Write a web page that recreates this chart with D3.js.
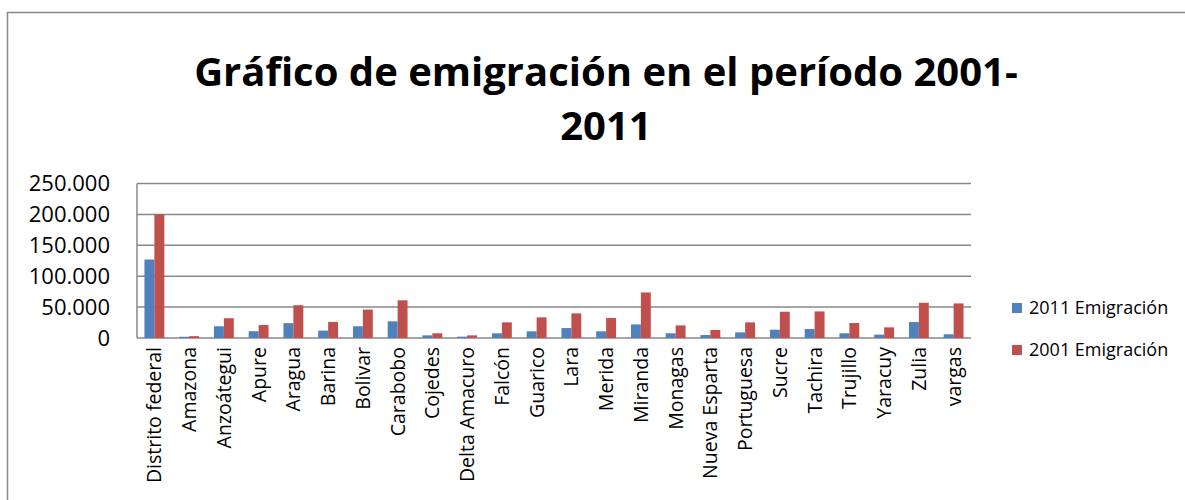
<!DOCTYPE html>
<html>
<head>
    <meta charset="utf-8">
    <script src="https://cdn.jsdelivr.net/npm/d3@7"></script>
</head>
<body style="margin:0;background:#fff">
<style>
    text{font-family:"Open Sans",sans-serif;fill:#000;}
    .grid line{stroke:#888;stroke-width:1.5;}
</style>
<script>
    var estados=["Distrito federal","Amazona","Anzoátegui","Apure","Aragua","Barina","Bolivar","Carabobo",
        "Cojedes","Delta Amacuro","Falcón","Guarico","Lara","Merida","Miranda","Monagas","Nueva Esparta",
        "Portuguesa","Sucre","Tachira","Trujillo","Yaracuy","Zulia","vargas"];
    var emig2011=[127000,2000,19000,11000,24000,12000,19000,27000,4300,2200,7600,10800,16100,10800,
        22000,7600,4800,9100,13400,14500,7600,5400,25800,6000];
    var emig2001=[200000,3000,32000,21000,53000,26000,46000,61000,7600,4300,25300,33400,39800,32300,
        73700,20400,13000,25300,42500,43000,24200,17200,57000,56000];
    var series=["2011 Emigración","2001 Emigración"];
    var colores=["#4F81BD","#C0504D"];
    var yTicks=[0,50000,100000,150000,200000,250000];

    var w=1185,h=500;
    var svg=d3.select('body').append('svg').attr('width',w).attr('height',h);

    // chart frame
    svg.append('rect').attr('x',7.5).attr('y',12.5).attr('width',1200).attr('height',600)
        .attr('fill','none').attr('stroke','#888').attr('stroke-width',1.5);

    // title
    var title=svg.append('text').attr('text-anchor','middle').attr('font-weight','bold')
        .style('font-size','40px');
    title.append('tspan').attr('x',606).attr('y',86).text('Gráfico de emigración en el período 2001-');
    title.append('tspan').attr('x',606).attr('y',140).text('2011');

    var pLeft=137,pRight=971,pTop=183.5,pBottom=338;

    var x=d3.scaleBand().domain(estados).range([pLeft,pRight]);
    var y=d3.scaleLinear().domain([0,250000]).range([pBottom,pTop]);
    var fmt=function(d){return d3.format(',')(d).replace(/,/g,'.');};

    // gridlines
    svg.append('g').attr('class','grid').selectAll('line').data(yTicks).enter().append('line')
        .attr('x1',pLeft).attr('x2',pRight)
        .attr('y1',function(d){return y(d)}).attr('y2',function(d){return y(d)});
    svg.append('line').attr('x1',pLeft).attr('x2',pLeft).attr('y1',pTop).attr('y2',pBottom)
        .attr('stroke','#888').attr('stroke-width',1.5);

    // y labels
    svg.append('g').selectAll('text').data(yTicks).enter().append('text')
        .attr('x',110).attr('y',function(d){return y(d)}).attr('dy','0.36em')
        .attr('text-anchor','end').style('font-size','22px').text(fmt);

    // bars
    var bw=x.bandwidth()/3.5;
    var data=[emig2011,emig2001];
    data.forEach(function(vals,s){
        svg.append('g').selectAll('rect').data(vals).enter().append('rect')
            .attr('x',function(d,i){return x(estados[i])+x.bandwidth()/2-bw+s*bw})
            .attr('width',bw)
            .attr('y',function(d){return y(d)})
            .attr('height',function(d){return pBottom-y(d)})
            .attr('fill',colores[s]);
    });

    // category labels
    svg.append('g').selectAll('text').data(estados).enter().append('text')
        .attr('transform',function(d){return 'translate('+(x(d)+x.bandwidth()/2)+',347) rotate(-90)'})
        .attr('dy','0.36em').attr('text-anchor','end').style('font-size','19.5px').text(function(d){return d});

    // legend
    var lg=svg.append('g').selectAll('g').data(series).enter().append('g')
        .attr('transform',function(d,i){return 'translate(1012,'+(308+i*42)+')'});
    lg.append('rect').attr('x',0).attr('y',-5).attr('width',10).attr('height',10)
        .attr('fill',function(d,i){return colores[i]});
    lg.append('text').attr('x',17).attr('dy','0.36em').style('font-size','18px').text(function(d){return d});
</script>
</body>
</html>
